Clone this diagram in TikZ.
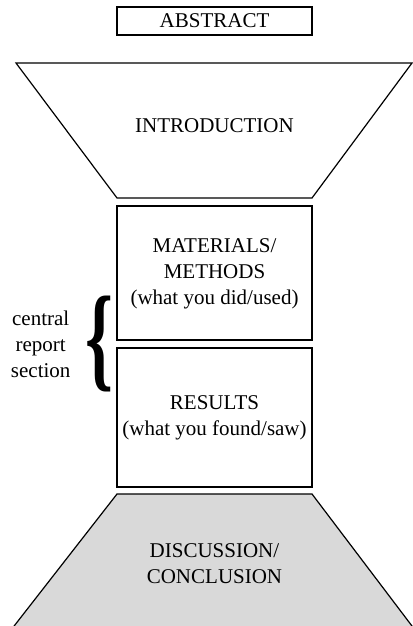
\documentclass[tikz,border=0pt]{standalone}
\usepackage{fontspec}
\setmainfont{Liberation Serif}
\usepackage{tkz-euclide}
\usetikzlibrary{calc}
\definecolor{discgray}{RGB}{217,217,217}

\begin{document}
\begin{tikzpicture}[x=0.5pt,y=-0.5pt,line width=0.6pt,
                    font=\fontsize{10.5}{13}\selectfont]
                \useasboundingbox (0,0) rectangle (412,626);

                % the three boxes
                \foreach \a/\t/\b in{A/7/35,M/206/340,R/348/487}
                {
                    \tkzDefPoint(117,\t){\a UL}
                    \tkzDefPoint(312,\b){\a DR}
                    \draw (\a UL) rectangle (\a DR);
                }

                % top funnel
                \tkzDefPoint(16,63){I1}
                \tkzDefPoint(412,63){I2}
                \tkzDefPoint(312,198){I3}
                \tkzDefPoint(117,198){I4}
                \draw (I1)--(I2)--(I3)--(I4)--cycle;

                % bottom funnel
                \tkzDefPoint(117,494){D1}
                \tkzDefPoint(312,494){D2}
                \tkzDefPoint(415,630){D3}
                \tkzDefPoint(11,630){D4}
                \fill[discgray] (D1)--(D2)--(D3)--(D4)--cycle;
                \draw (D4)--(D1)--(D2)--(D3);

                \node (abstract) at (214.5,21) {ABSTRACT};
                \node (intro) at (214.5,126) {INTRODUCTION};
                \node[align=center] (methods) at (214.5,274) {MATERIALS/\\METHODS\\(what you did/used)};
                \node[align=center] (results) at (214.5,418) {RESULTS\\(what you found/saw)};
                \node[align=center] (discuss) at (214.5,564) {DISCUSSION/\\CONCLUSION};

                \node (brace) at (99,344) {\resizebox*{14pt}{48pt}{\fontsize{30}{30}\selectfont\bfseries\{}};
                \node[align=center,left=0pt of brace.west] (central) {central\\report\\section};
            \end{tikzpicture}
\end{document}
